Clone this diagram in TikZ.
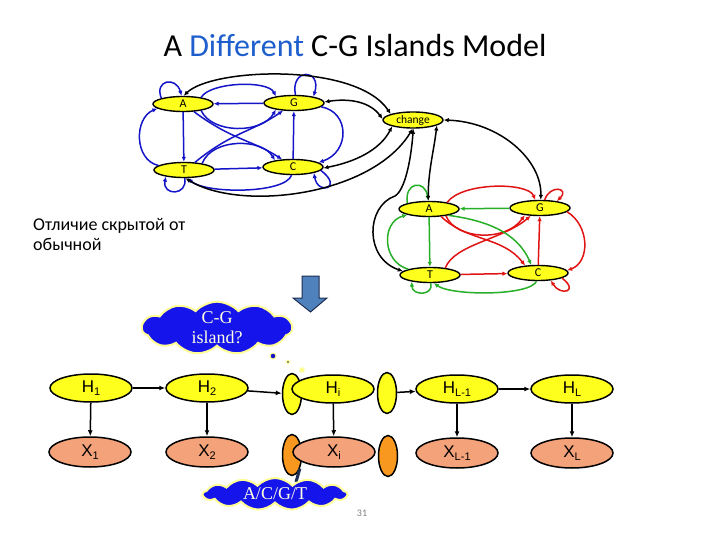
\documentclass[tikz,border=0pt]{standalone}
\usepackage{fontspec}
\setmainfont{Carlito}
\newfontfamily\arialf{Liberation Sans}
\newfontfamily\timesf{Liberation Serif}
\usetikzlibrary{shapes.geometric,shapes.symbols,arrows.meta}
\definecolor{islblue}{RGB}{20,20,200}
\definecolor{islgreen}{RGB}{40,175,40}
\definecolor{islred}{RGB}{225,20,20}
\definecolor{nodeyellow}{RGB}{255,255,30}
\definecolor{xsalmon}{RGB}{244,162,122}
\definecolor{xorange}{RGB}{248,152,30}
\definecolor{titleblue}{RGB}{30,95,205}
\definecolor{cloudblue}{RGB}{20,20,235}
\definecolor{cloudedge}{RGB}{255,255,150}
\definecolor{cloudtext}{RGB}{255,255,225}
\definecolor{arrowfill}{RGB}{79,129,189}
\definecolor{arrowedge}{RGB}{30,45,80}
\newcommand\hsub[2]{#1\raisebox{-3.5pt}{\fontsize{11}{11}\selectfont #2}}
\tikzset{
  isl/.style={ellipse, draw=black, line width=1.4pt, fill=nodeyellow, minimum width=60pt,
    minimum height=15pt, inner sep=0pt, font=\fontsize{12}{12}\selectfont},
  tip/.style={-{Latex[length=5pt,width=4.5pt]}},
  be/.style={draw=islblue, line width=1.5pt, tip},
  ge/.style={draw=islgreen, line width=1.5pt, tip},
  re/.style={draw=islred, line width=1.5pt, tip},
  ke/.style={draw=black, line width=1.5pt, {Latex[length=5pt,width=4.5pt]}-{Latex[length=5pt,width=4.5pt]}},
  hn/.style={ellipse, draw=black, line width=1.5pt, fill=nodeyellow, minimum width=82pt,
    minimum height=28pt, inner sep=0pt, font=\arialf\fontsize{17}{17}\selectfont},
  xn/.style={hn, fill=xsalmon, minimum height=30pt},
  sy/.style={ellipse, draw=black, line width=1.5pt, fill=nodeyellow, minimum width=19pt,
    minimum height=41pt, inner sep=0pt},
  so/.style={sy, fill=xorange},
  ha/.style={draw=black, line width=1.5pt, -{Latex[length=6pt,width=5pt]}},
  cl/.style={cloud, cloud puffs=11, cloud puff arc=95, cloud ignores aspect, fill=cloudblue, draw=cloudedge,
    line width=2pt, inner sep=0pt, font=\timesf\fontsize{18}{20}\selectfont,
    text=cloudtext, align=center},
}
\begin{document}
\begin{tikzpicture}[x=1pt,y=-1pt]
\useasboundingbox[fill=white] (0,0) rectangle (720,540);

% title
\node[anchor=base, font=\fontsize{32}{34}\selectfont] (title) at (355,57)
  {A {\color{titleblue}Different} C-G Islands Model};

% side text
\node[anchor=base west, inner sep=0pt, font=\fontsize{18}{20}\selectfont] (rus1) at (33,230) {Отличие скрытой от};
\node[anchor=base west, inner sep=0pt, font=\fontsize{18}{20}\selectfont] (rus2) at (33,250) {обычной};

% blue island
\node[isl] (bA) at (183,104) {A};
\node[isl] (bG) at (294,103) {G};
\node[isl] (bT) at (184,170) {T};
\node[isl] (bC) at (293,167) {C};
\node[isl, minimum height=16pt, font=\fontsize{11.5}{12}\selectfont] (ch) at (413,120) {change};

\draw[be] (bG) -- (bA);
\draw[be] (bA) -- (bT);
\draw[be] (bT) -- (bC);
\draw[be] (bC) -- (bG);
\draw[be] (bA.165) .. controls (154,80) and (176,76) .. (bA.100);
\draw[be] (bG.80) .. controls (290,68) and (322,68) .. (bG.18);
\draw[be] (bT.-85) .. controls (188,196) and (162,196) .. (bT.-160);
\draw[be] (bC.-7) .. controls (344,188) and (318,196) .. (bC.-16);
\draw[be] (bT.170) .. controls (134,160) and (134,118) .. (bA.190);
\draw[be] (bG.-8) .. controls (350,112) and (350,152) .. (bC.10);
\draw[be] (bA.20) .. controls (210,82) and (268,80) .. (bG.160);
\draw[be] (bA.-20) .. controls (212,134) and (262,134) .. (bG.-160);
\draw[be] (bT.20) .. controls (212,138) and (262,138) .. (bC.160);
\draw[be] (bA.-35) .. controls (232,140) and (252,140) .. (bC.145);
\draw[be] (bT.35) .. controls (232,132) and (252,132) .. (bG.-145);
\draw[be] (bC.-100) .. controls (285,194) and (205,194) .. (bT.-65);

% red-green island
\node[isl] (rA) at (429,209) {A};
\node[isl] (rG) at (540,208) {G};
\node[isl] (rT) at (430,275) {T};
\node[isl] (rC) at (538,273) {C};

\draw[ge] (rG) -- (rA);
\draw[ge] (rA) -- (rT);
\draw[re] (rT) -- (rC);
\draw[re] (rC) -- (rG);
\draw[ge] (rT.165) .. controls (382,262) and (381,222) .. (rA.195);
\draw[ge] (rA.165) .. controls (404,182) and (425,179) .. (rA.95);
\draw[re] (rA.20) .. controls (462,182) and (528,182) .. (rG.120);
\draw[re] (rG.60) .. controls (550,184) and (570,188) .. (rG.22);
\draw[re] (rG.-8) .. controls (590,226) and (590,262) .. (rC.5);
\draw[re] (rC.-12) .. controls (580,292) and (560,296) .. (rC.-30);
\draw[re] (rA.-22) .. controls (456,240) and (506,242) .. (rG.-155);
\draw[re] (rT.25) .. controls (455,244) and (502,240) .. (rG.-140);
\draw[re] (rA.-32) .. controls (468,242) and (502,236) .. (rC.150);
\draw[ge] (rA.-18) .. controls (482,220) and (516,230) .. (rC.130);
\draw[ge] (rT.-85) .. controls (434,296) and (412,296) .. (rT.-160);
\draw[ge] (rC.-100) .. controls (530,296) and (452,296) .. (rT.-65);

% black connections with change
\draw[ke] (bA.85) .. controls (212,68) and (356,62) .. (ch.165);
\draw[ke] (bG.2) .. controls (350,98) and (370,102) .. (ch.178);
\draw[ke] (bC.-2) .. controls (355,162) and (380,150) .. (ch.-163);
\draw[ke] (bT.-80) .. controls (240,212) and (372,196) .. (ch.-92);
\draw[ke] (rA.95) .. controls (428,172) and (434,150) .. (ch.-13);
\draw[ke] (rT.172) .. controls (364,258) and (366,206) .. (395,196) .. controls (405,190) and (411,160) .. (ch.-88);
\draw[ke] (ch.0) .. controls (500,122) and (542,160) .. (rG.85);

% block arrow
\draw[draw=arrowedge, fill=arrowfill, line width=1pt, line join=miter]
  (302,276) -- (319,276) -- (319,298) -- (327,298) -- (310.5,312) -- (293,298) -- (302,298) -- cycle;

% cloud: C-G island?
\node[cl, minimum width=150pt, minimum height=46pt] (cg) at (217,328) {C-G\\island?};
\draw[fill=islblue, draw=cloudedge, line width=1pt] (273,356) circle (3pt);
\draw[fill=arrowedge, draw=cloudedge, line width=1pt] (288,362) circle (1.8pt);
\fill[cloudedge] (302,370) circle (2.8pt);

% HMM chain
\node[hn] (H1) at (91,388) {\hsub{H}{1}};
\node[hn] (H2) at (207,388) {\hsub{H}{2}};
\node[sy] (sHl) at (292,394) {};
\node[hn] (Hi) at (333,389) {\hsub{H}{i}};
\node[sy] (sHr) at (387,393) {};
\node[hn] (HL1) at (457,389) {\hsub{H}{L-1}};
\node[hn] (HL) at (572,389) {\hsub{H}{L}};

\node[xn] (X1) at (90,452) {\hsub{X}{1}};
\node[xn] (X2) at (207,452) {\hsub{X}{2}};
\node[so] (sXl) at (292,455) {};
\node[xn] (Xi) at (334,452) {\hsub{X}{i}};
\node[so] (sXr) at (388,456) {};
\node[xn] (XL1) at (457,453) {\hsub{X}{L-1}};
\node[xn] (XL) at (572,453) {\hsub{X}{L}};

\draw[ha] (H1) -- (H2);
\draw[ha] (H2) -- (sHl);
\draw[ha] (sHr) -- (HL1);
\draw[ha] (HL1) -- (HL);
\draw[ha] (H1) -- (X1);
\draw[ha] (H2) -- (X2);
\draw[ha] (Hi) -- (Xi);
\draw[ha] (HL1) -- (XL1);
\draw[ha] (HL) -- (XL);

% cloud: A/C/G/T
\draw[arrowedge, line width=3pt] (sXl.-60) -- (296,482);
\node[cl, minimum width=144pt, minimum height=32pt, cloud puffs=13] (acgt) at (275,494) {A/C/G/T};

% slide number
\node[font=\fontsize{10}{10}\selectfont, text=gray] (num) at (362,513) {31};
\end{tikzpicture}
\end{document}
